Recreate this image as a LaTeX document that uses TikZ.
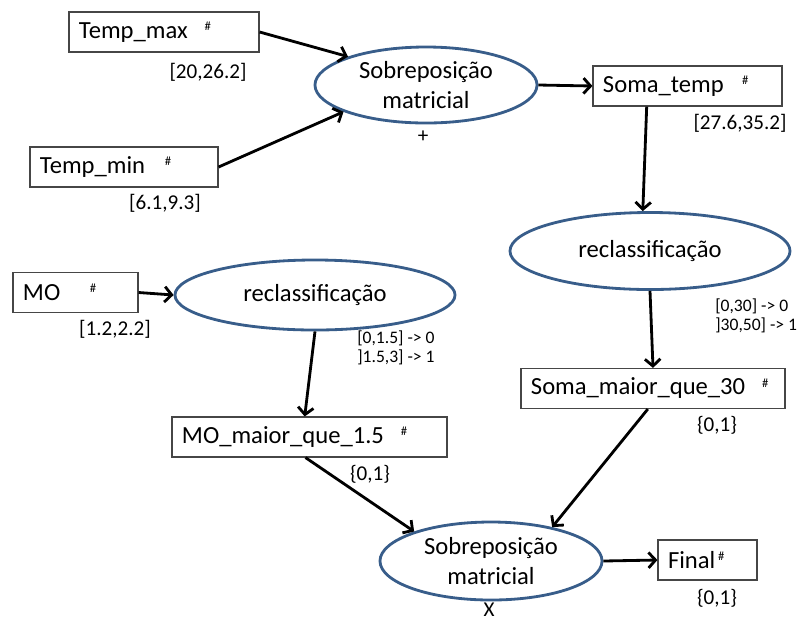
\documentclass[tikz,border=0pt]{standalone}
\usepackage{fontspec}
\setmainfont{Carlito}
\usepackage{tikz}
\usetikzlibrary{shapes.geometric,arrows.meta,positioning}
\definecolor{ellblue}{RGB}{56,93,138}
\definecolor{boxgray}{RGB}{70,70,70}
\tikzstyle{line} = [draw, line width=2pt, -{Straight Barb[length=5pt,width=11pt]}]
\newcommand{\hashmark}[1]{\hspace{#1}\raisebox{5.5pt}{\fontsize{9}{9}\selectfont\#}}

\begin{document}
\begin{tikzpicture}[x=0.025cm, y=-0.025cm, font=\fontsize{17.5}{21}\selectfont,
    layer/.style={rectangle, draw=boxgray, line width=0.8pt, minimum height=1cm, inner xsep=0.25cm, align=left},
    op/.style={ellipse, draw=ellblue, line width=2pt, align=center, inner sep=0pt},
    interval/.style={font=\fontsize{15}{18}\selectfont, inner sep=1pt},
    classrule/.style={font=\fontsize{12.5}{13.5}\selectfont, align=left, inner sep=0pt, anchor=west}]
    \useasboundingbox (0,0) rectangle (807,621);

    % camadas
    \node[layer, text width=4.25cm] (TempMax) at (164,32) {Temp\_max\hashmark{12pt}};
    \node[layer, text width=4.2cm] (TempMin) at (124,167) {Temp\_min\hashmark{14pt}};
    \node[layer, text width=4.225cm] (SomaTemp) at (687.5,86) {Soma\_temp\hashmark{13pt}};
    \node[layer, text width=2.625cm] (MO) at (75.5,292.5) {MO\hashmark{21pt}};
    \node[layer, text width=6.375cm] (MOMaior) at (309.5,437) {MO\_maior\_que\_1.5\hashmark{12pt}};
    \node[layer, text width=6.1cm] (SomaMaior) at (653,388.5) {Soma\_maior\_que\_30\hashmark{12pt}};
    \node[layer, text width=1.975cm] (Final) at (707.5,560) {Final\hashmark{2pt}};

    % operacoes
    \node[op, minimum width=5.55cm, minimum height=1.9cm] (SobTop) at (426,85) {Sobreposição\\matricial};
    \node[op, minimum width=7cm, minimum height=1.75cm] (RecMO) at (315,295) {reclassificação};
    \node[op, minimum width=7cm, minimum height=1.925cm] (RecTemp) at (650,251) {reclassificação};
    \node[op, minimum width=5.55cm, minimum height=1.95cm] (SobBot) at (491,561) {Sobreposição\\matricial};

    % intervalos e regras
    \node[interval] (rTmax) at (208,72) {[20,26.2]};
    \node[interval] (rTmin) at (165,203) {[6.1,9.3]};
    \node[interval] (opSum) at (423,137) {+};
    \node[interval] (rSoma) at (740,123) {[27.6,35.2]};
    \node[interval] (rMO) at (115,329) {[1.2,2.2]};
    \node[classrule] (ruleMO) at (357,348) {[0,1.5] -> 0\\]1.5,3] -> 1};
    \node[classrule] (ruleSoma) at (715,316) {[0,30] -> 0\\]30,50] -> 1};
    \node[interval] (bMO) at (370,474) {\{0,1\}};
    \node[interval] (bSoma) at (717,425) {\{0,1\}};
    \node[interval] (bFinal) at (717,598) {\{0,1\}};
    \node[interval] (opMul) at (489,610) {X};

    \path [line] (TempMax.east) -- (SobTop.160);
    \path [line] (TempMin.east) -- (SobTop.198);
    \path [line] (SobTop.east) -- (SomaTemp.west);
    \path [line] ([xshift=-1.02cm]SomaTemp.south) -- ([xshift=-0.18cm]RecTemp.north);
    \path [line] (MO.east) -- (RecMO.west);
    \path [line] (RecMO.south) -- ([xshift=-0.12cm]MOMaior.north);
    \path [line] (RecTemp.south) -- (SomaMaior.north);
    \path [line] ([xshift=-0.1cm]MOMaior.south) -- (SobBot.159);
    \path [line] ([xshift=-0.13cm]SomaMaior.south) -- (SobBot.29);
    \path [line] (SobBot.east) -- (Final.west);
\end{tikzpicture}
\end{document}
